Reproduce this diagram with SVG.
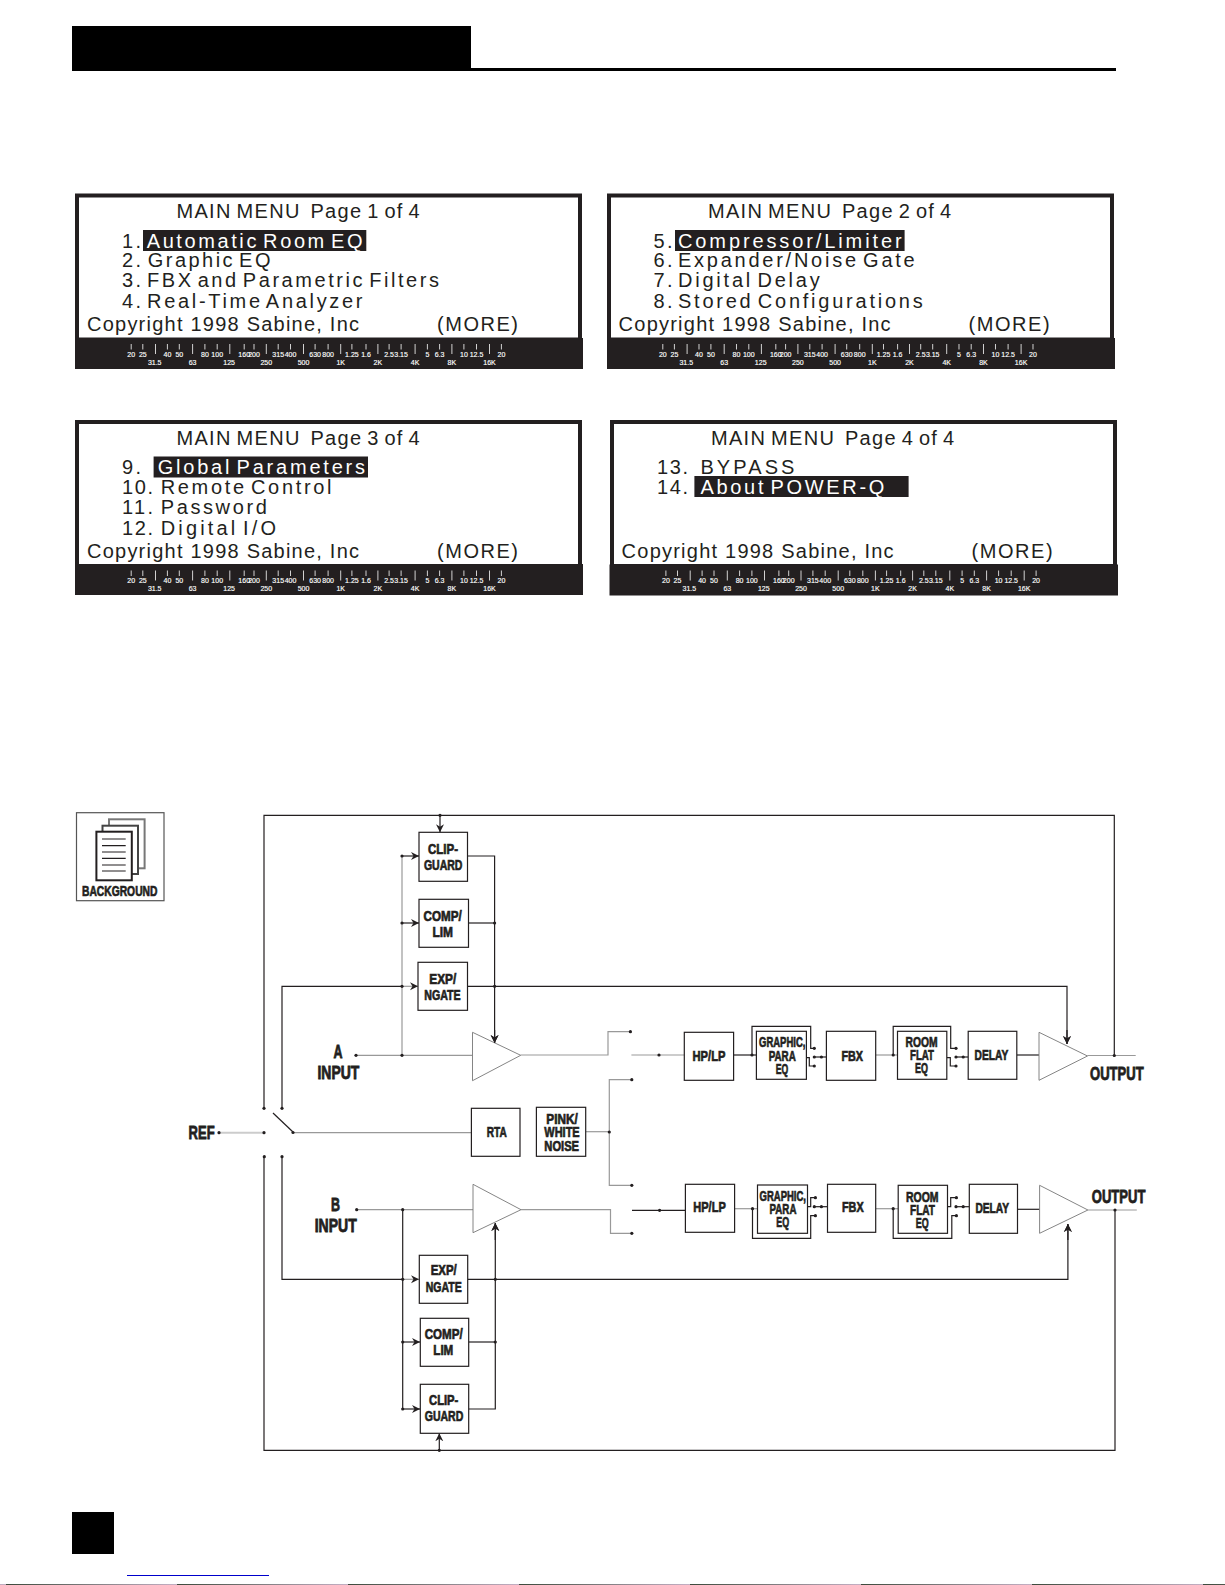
<svg xmlns="http://www.w3.org/2000/svg" width="1225" height="1585" viewBox="0 0 1225 1585">
<style>
text{font-family:"Liberation Sans",Arial,sans-serif;fill:#231f20}
.m{font-size:20px}
.n{font-size:20px;word-spacing:-4px}
.p{font-size:20px;word-spacing:-2px;white-space:pre}
.b{font-size:15px;font-weight:bold;stroke:#231f20;stroke-width:.7;text-anchor:middle}
.l{font-size:18px;font-weight:bold;stroke:#231f20;stroke-width:.8}
.w{fill:#fff;font-size:20px;word-spacing:-4px}
.u{fill:#fff;stroke:#fff;stroke-width:.15;font-size:7px;text-anchor:middle}
.box{fill:#fff;stroke:#231f20;stroke-width:1.2}
.k{fill:none;stroke:#231f20;stroke-width:1.2}
.g{fill:none;stroke:#999;stroke-width:1.2}
.h{fill:none;stroke:#ccc;stroke-width:2}
.t{fill:#fff;stroke:#777;stroke-width:.9}
.a{marker-end:url(#arr)}
.d{fill:#231f20}
.tick{stroke:#fff;stroke-width:.8;fill:none}
</style>
<defs>
<marker id="arr" markerUnits="userSpaceOnUse" markerWidth="9" markerHeight="9" refX="8" refY="4.500" orient="auto"><path d="M0,.5 L8,4.500 L0,8.500 L2.500,4.500z" fill="#231f20"/></marker>
<linearGradient id="strip" gradientUnits="userSpaceOnUse" x1="6" y1="0" x2="177" y2="0" spreadMethod="repeat"><stop offset="0" stop-color="#3c4a3c"/><stop offset="1" stop-color="#c4b0c4"/></linearGradient>
<path id="ticks" d="M131.2 344v5.500M142.8 344v5.500M167.4 344v5.500M179.3 344v5.500M204.9 344v5.500M217.2 344v5.500M244.2 344v5.500M254 344v5.500M278.2 344v5.500M290.5 344v5.500M315.1 344v5.500M328.1 344v5.500M351.9 344v5.500M366 344v5.500M389.1 344v5.500M401.1 344v5.500M427.4 344v5.500M439.6 344v5.500M463.9 344v5.500M476.5 344v5.500M501.4 344v5.500M155.5 344v10M192.6 344v10M229.8 344v10M266.3 344v10M303.5 344v10M340.7 344v10M377.9 344v10M415.1 344v10M451.9 344v10M489.5 344v10"/>
</defs>
<rect width="1225" height="1585" fill="#fff"/>
<g id="header"><rect x="72" y="26" width="399" height="45" fill="#000"/><rect x="471" y="68" width="645" height="3" fill="#000"/></g>
<rect id="page-number" x="72" y="1512" width="42" height="42" fill="#000"/>
<rect x="127" y="1575" width="142" height="1" fill="#0000cc"/>
<rect x="0" y="1584" width="1225" height="1" fill="url(#strip)"/>

<g id="panel-1">
<rect x="77" y="195.500" width="503" height="144" fill="#fff" stroke="#231f20" stroke-width="4"/>
<rect x="75" y="338" width="508" height="31" fill="#231f20"/>
<rect x="143" y="230" width="223.300" height="21" fill="#231f20"/>
<text class="p" x="176.500" y="218.300" textLength="243.200">MAIN MENU  Page 1 of 4</text>
<text class="m" x="122" y="248" textLength="19">1.</text><text class="w" x="146.700" y="248" textLength="215.800">Automatic Room EQ</text>
<text class="m" x="122" y="267.300" textLength="19">2.</text><text class="n" x="147.700" y="267.300" textLength="122.800">Graphic EQ</text>
<text class="m" x="122" y="287.300" textLength="19">3.</text><text class="n" x="147" y="287.300" textLength="292">FBX and Parametric Filters</text>
<text class="m" x="122" y="308" textLength="19">4.</text><text class="n" x="147" y="308" textLength="215.500">Real-Time Analyzer</text>
<text class="m" x="87" y="331.200" textLength="272">Copyright 1998 Sabine, Inc</text><text class="m" x="437" y="331.200" textLength="81">(MORE)</text>
<g><use href="#ticks" class="tick"/>
<text class="u" x="131.200" y="356.500">20</text><text class="u" x="142.800" y="356.500">25</text><text class="u" x="167.400" y="356.500">40</text><text class="u" x="179.300" y="356.500">50</text><text class="u" x="204.900" y="356.500">80</text><text class="u" x="217.200" y="356.500">100</text><text class="u" x="244.200" y="356.500">160</text><text class="u" x="254" y="356.500">200</text><text class="u" x="278.200" y="356.500">315</text><text class="u" x="290.500" y="356.500">400</text><text class="u" x="315.100" y="356.500">630</text><text class="u" x="328.100" y="356.500">800</text><text class="u" x="351.900" y="356.500">1.25</text><text class="u" x="366" y="356.500">1.6</text><text class="u" x="389.100" y="356.500">2.5</text><text class="u" x="401.100" y="356.500">3.15</text><text class="u" x="427.400" y="356.500">5</text><text class="u" x="439.600" y="356.500">6.3</text><text class="u" x="463.900" y="356.500">10</text><text class="u" x="476.500" y="356.500">12.5</text><text class="u" x="501.400" y="356.500">20</text>
<text class="u" x="154.700" y="364.500">31.5</text><text class="u" x="192.600" y="364.500">63</text><text class="u" x="229.100" y="364.500">125</text><text class="u" x="266.300" y="364.500">250</text><text class="u" x="303.500" y="364.500">500</text><text class="u" x="340.700" y="364.500">1K</text><text class="u" x="377.900" y="364.500">2K</text><text class="u" x="415.100" y="364.500">4K</text><text class="u" x="451.900" y="364.500">8K</text><text class="u" x="489.500" y="364.500">16K</text></g>
</g>

<g id="panel-2">
<rect x="609" y="195.500" width="503" height="144" fill="#fff" stroke="#231f20" stroke-width="4"/>
<rect x="607" y="338" width="508" height="31" fill="#231f20"/>
<rect x="675" y="230" width="229.600" height="21" fill="#231f20"/>
<text class="p" x="708" y="218.300" textLength="243.200">MAIN MENU  Page 2 of 4</text>
<text class="m" x="653.500" y="248" textLength="19">5.</text><text class="w" x="678" y="248" textLength="223.600">Compressor/Limiter</text>
<text class="m" x="653.500" y="267.300" textLength="19">6.</text><text class="n" x="678" y="267.300" textLength="236.700">Expander/Noise Gate</text>
<text class="m" x="653.500" y="287.300" textLength="19">7.</text><text class="n" x="678" y="287.300" textLength="141.700">Digital Delay</text>
<text class="m" x="653.500" y="308" textLength="19">8.</text><text class="n" x="678" y="308" textLength="244.700">Stored Configurations</text>
<text class="m" x="618.600" y="331.200" textLength="272">Copyright 1998 Sabine, Inc</text><text class="m" x="968.600" y="331.200" textLength="81">(MORE)</text>
<g transform="translate(531.600 0)"><use href="#ticks" class="tick"/>
<text class="u" x="131.200" y="356.500">20</text><text class="u" x="142.800" y="356.500">25</text><text class="u" x="167.400" y="356.500">40</text><text class="u" x="179.300" y="356.500">50</text><text class="u" x="204.900" y="356.500">80</text><text class="u" x="217.200" y="356.500">100</text><text class="u" x="244.200" y="356.500">160</text><text class="u" x="254" y="356.500">200</text><text class="u" x="278.200" y="356.500">315</text><text class="u" x="290.500" y="356.500">400</text><text class="u" x="315.100" y="356.500">630</text><text class="u" x="328.100" y="356.500">800</text><text class="u" x="351.900" y="356.500">1.25</text><text class="u" x="366" y="356.500">1.6</text><text class="u" x="389.100" y="356.500">2.5</text><text class="u" x="401.100" y="356.500">3.15</text><text class="u" x="427.400" y="356.500">5</text><text class="u" x="439.600" y="356.500">6.3</text><text class="u" x="463.900" y="356.500">10</text><text class="u" x="476.500" y="356.500">12.5</text><text class="u" x="501.400" y="356.500">20</text>
<text class="u" x="154.700" y="364.500">31.5</text><text class="u" x="192.600" y="364.500">63</text><text class="u" x="229.100" y="364.500">125</text><text class="u" x="266.300" y="364.500">250</text><text class="u" x="303.500" y="364.500">500</text><text class="u" x="340.700" y="364.500">1K</text><text class="u" x="377.900" y="364.500">2K</text><text class="u" x="415.100" y="364.500">4K</text><text class="u" x="451.900" y="364.500">8K</text><text class="u" x="489.500" y="364.500">16K</text></g>
</g>

<g id="panel-3">
<rect x="77" y="422" width="503" height="144" fill="#fff" stroke="#231f20" stroke-width="4"/>
<rect x="75" y="564" width="508" height="31" fill="#231f20"/>
<rect x="153.600" y="456.500" width="214.400" height="21" fill="#231f20"/>
<text class="p" x="176.500" y="444.800" textLength="243.200">MAIN MENU  Page 3 of 4</text>
<text class="m" x="122" y="473.800" textLength="19">9.</text><text class="w" x="157.700" y="473.800" textLength="207.300">Global Parameters</text>
<text class="m" x="122" y="493.800" textLength="31">10.</text><text class="n" x="160.700" y="493.800" textLength="170.800">Remote Control</text>
<text class="m" x="122" y="513.800" textLength="31">11.</text><text class="n" x="160.700" y="513.800" textLength="106.100">Password</text>
<text class="m" x="122" y="534.500" textLength="31">12.</text><text class="n" x="160.700" y="534.500" textLength="115.300">Digital I/O</text>
<text class="m" x="87" y="557.700" textLength="272">Copyright 1998 Sabine, Inc</text><text class="m" x="437" y="557.700" textLength="81">(MORE)</text>
<g transform="translate(0 226.500)"><use href="#ticks" class="tick"/>
<text class="u" x="131.200" y="356.500">20</text><text class="u" x="142.800" y="356.500">25</text><text class="u" x="167.400" y="356.500">40</text><text class="u" x="179.300" y="356.500">50</text><text class="u" x="204.900" y="356.500">80</text><text class="u" x="217.200" y="356.500">100</text><text class="u" x="244.200" y="356.500">160</text><text class="u" x="254" y="356.500">200</text><text class="u" x="278.200" y="356.500">315</text><text class="u" x="290.500" y="356.500">400</text><text class="u" x="315.100" y="356.500">630</text><text class="u" x="328.100" y="356.500">800</text><text class="u" x="351.900" y="356.500">1.25</text><text class="u" x="366" y="356.500">1.6</text><text class="u" x="389.100" y="356.500">2.5</text><text class="u" x="401.100" y="356.500">3.15</text><text class="u" x="427.400" y="356.500">5</text><text class="u" x="439.600" y="356.500">6.3</text><text class="u" x="463.900" y="356.500">10</text><text class="u" x="476.500" y="356.500">12.5</text><text class="u" x="501.400" y="356.500">20</text>
<text class="u" x="154.700" y="364.500">31.5</text><text class="u" x="192.600" y="364.500">63</text><text class="u" x="229.100" y="364.500">125</text><text class="u" x="266.300" y="364.500">250</text><text class="u" x="303.500" y="364.500">500</text><text class="u" x="340.700" y="364.500">1K</text><text class="u" x="377.900" y="364.500">2K</text><text class="u" x="415.100" y="364.500">4K</text><text class="u" x="451.900" y="364.500">8K</text><text class="u" x="489.500" y="364.500">16K</text></g>
</g>

<g id="panel-4">
<rect x="612" y="422" width="503" height="144" fill="#fff" stroke="#231f20" stroke-width="4"/>
<rect x="609.500" y="564.500" width="508.500" height="31" fill="#231f20"/>
<rect x="694.400" y="476" width="214.200" height="21" fill="#231f20"/>
<text class="p" x="711" y="444.800" textLength="243.200">MAIN MENU  Page 4 of 4</text>
<text class="m" x="657" y="473.800" textLength="31">13.</text><text class="n" x="700.400" y="473.800" textLength="94">BYPASS</text>
<text class="m" x="657" y="493.800" textLength="31">14.</text><text class="w" x="700.400" y="493.800" textLength="184">About POWER-Q</text>
<text class="m" x="621.600" y="557.700" textLength="272">Copyright 1998 Sabine, Inc</text><text class="m" x="971.600" y="557.700" textLength="81">(MORE)</text>
<g transform="translate(534.700 226.500)"><use href="#ticks" class="tick"/>
<text class="u" x="131.200" y="356.500">20</text><text class="u" x="142.800" y="356.500">25</text><text class="u" x="167.400" y="356.500">40</text><text class="u" x="179.300" y="356.500">50</text><text class="u" x="204.900" y="356.500">80</text><text class="u" x="217.200" y="356.500">100</text><text class="u" x="244.200" y="356.500">160</text><text class="u" x="254" y="356.500">200</text><text class="u" x="278.200" y="356.500">315</text><text class="u" x="290.500" y="356.500">400</text><text class="u" x="315.100" y="356.500">630</text><text class="u" x="328.100" y="356.500">800</text><text class="u" x="351.900" y="356.500">1.25</text><text class="u" x="366" y="356.500">1.6</text><text class="u" x="389.100" y="356.500">2.5</text><text class="u" x="401.100" y="356.500">3.15</text><text class="u" x="427.400" y="356.500">5</text><text class="u" x="439.600" y="356.500">6.3</text><text class="u" x="463.900" y="356.500">10</text><text class="u" x="476.500" y="356.500">12.5</text><text class="u" x="501.400" y="356.500">20</text>
<text class="u" x="154.700" y="364.500">31.5</text><text class="u" x="192.600" y="364.500">63</text><text class="u" x="229.100" y="364.500">125</text><text class="u" x="266.300" y="364.500">250</text><text class="u" x="303.500" y="364.500">500</text><text class="u" x="340.700" y="364.500">1K</text><text class="u" x="377.900" y="364.500">2K</text><text class="u" x="415.100" y="364.500">4K</text><text class="u" x="451.900" y="364.500">8K</text><text class="u" x="489.500" y="364.500">16K</text></g>
</g>

<g id="background-icon">
<rect x="76.500" y="812.700" width="87.500" height="88" fill="#fff" stroke="#555" stroke-width="1.200"/>
<rect x="109" y="819.300" width="35.600" height="49" fill="#fff" stroke="#777" stroke-width="2"/>
<rect x="102.500" y="825.700" width="35.500" height="48.300" fill="#fff" stroke="#444" stroke-width="2"/>
<rect x="96.400" y="831.700" width="35.400" height="48.600" fill="#fff" stroke="#231f20" stroke-width="2"/>
<path d="M102 839h23.700M102 845.700h23.700M102 852h23.700M102 858.300h23.700M102 865h23.700M102 871h23.700" class="k"/>
<text x="119.700" y="895.700" class="b" textLength="75.500" lengthAdjust="spacingAndGlyphs">BACKGROUND</text>
</g>

<g id="connectors">
<path class="k" d="M264 1108.300V815.300H1114.300V1055"/>
<path class="k" d="M264 1156.700V1450.300H1115V1210"/>
<path class="k a" d="M440 815.300V832.300"/>
<path class="k a" d="M439.300 1450.300V1433.300"/>
<path class="k" d="M282 1108.300V986.300H402"/>
<path class="k" d="M282 1156.700V1279.300H402"/>
<path class="g" d="M402 856V1055.300"/>
<path class="k" d="M402.700 1209.700V1409"/>
<path class="k a" d="M402 856H419"/><path class="k a" d="M402 923H419"/><path class="g a" d="M402 986.300H418"/>
<path class="g a" d="M402.700 1279.300H419"/><path class="k a" d="M402.700 1342H420"/><path class="k a" d="M402.700 1409H420"/>
<path class="k a" d="M467.500 856H494.600V1043"/>
<path class="k" d="M468.500 923H494.600"/>
<path class="k a" d="M467.500 986.300H1067V1044"/>
<path class="k a" d="M468.700 1409H495.300V1223"/>
<path class="k" d="M468.700 1342H495.300"/>
<path class="k a" d="M467.700 1279.300H1067.900V1224"/>
<path class="g" d="M356 1055.300H472.500"/>
<path class="g" d="M356.700 1209.700H473"/>
<path class="h" d="M219 1132.700H264"/>
<path class="k" d="M273 1113L293 1132"/>
<path class="g" d="M293 1132.700H471"/>
<path class="g" d="M585.700 1131.700H609.300"/>
<path class="g" d="M631.800 1079.700H609.300V1185.300H631.800"/>
<path class="g" d="M520.700 1055H608V1031.700H630.400"/>
<path class="g" d="M521 1209.700H610.500V1233.300H631.800"/>
<path class="h" d="M631.400 1055H684.300"/>
<path class="k" d="M632 1210.300H686.800"/>
<path class="k" d="M733.600 1055H756.400"/><path class="g" d="M734.600 1208.700H757.500"/>
<path class="k" d="M752 1055V1026.300H810.700V1048.300H814.300"/>
<path class="k" d="M806.400 1057.700H809.300V1066H814.300"/>
<path class="k" d="M814.300 1057H826.400"/>
<path class="g" d="M875.700 1055H897.500"/>
<path class="k" d="M893.200 1055V1026.300H950.700V1048.300H956"/>
<path class="k" d="M946.800 1057.700H950.300V1066H956"/>
<path class="k" d="M956 1057H968.200"/>
<path class="k" d="M1016.800 1055H1039"/>
<path class="g" d="M1087.500 1055.500H1135.700"/>
<path class="k" d="M752.500 1208.700V1238.300H810.700V1215.700H815.400"/>
<path class="k" d="M807.500 1206.700H810.700V1197.700H815.400"/>
<path class="k" d="M814.300 1206.700H827.500"/>
<path class="g" d="M875.700 1208.700H898.200"/>
<path class="k" d="M893.200 1208.700V1238.300H951.800V1215.700H956.400"/>
<path class="k" d="M947.500 1206.700H950.700V1197.700H956.400"/>
<path class="k" d="M956 1206.700H969.300"/>
<path class="k" d="M1017.500 1209.300H1039.600"/>
<path class="h" d="M1087.900 1210H1136.800"/>
<g class="d">
<circle cx="440" cy="815.300" r="1.600"/><circle cx="402" cy="856" r="1.600"/><circle cx="402" cy="923" r="1.600"/><circle cx="402" cy="986.300" r="1.600"/><circle cx="402" cy="1055.300" r="1.600"/><circle cx="356" cy="1055.300" r="1.600"/><circle cx="494.600" cy="923" r="1.600"/><circle cx="494.600" cy="986.300" r="1.600"/><circle cx="264" cy="1108.300" r="1.600"/><circle cx="282" cy="1108.300" r="1.600"/><circle cx="219" cy="1132.700" r="1.600"/><circle cx="264" cy="1132.700" r="1.600"/><circle cx="293" cy="1132.500" r="1.600"/><circle cx="264.300" cy="1156.700" r="1.600"/><circle cx="282" cy="1156.700" r="1.600"/><circle cx="356.700" cy="1209.700" r="1.600"/><circle cx="402.700" cy="1209.700" r="1.600"/><circle cx="402.700" cy="1279.300" r="1.600"/><circle cx="402.700" cy="1342" r="1.600"/><circle cx="402.700" cy="1409" r="1.600"/><circle cx="495.300" cy="1279.300" r="1.600"/><circle cx="495.300" cy="1342" r="1.600"/><circle cx="439.300" cy="1450.300" r="1.600"/><circle cx="609.300" cy="1132" r="1.600"/>
<circle cx="630.400" cy="1031.700" r="1.600"/><circle cx="631.800" cy="1079.700" r="1.600"/><circle cx="631.800" cy="1185.300" r="1.600"/><circle cx="631.800" cy="1233.300" r="1.600"/><circle cx="659" cy="1055" r="1.600"/><circle cx="659.600" cy="1210.300" r="1.600"/>
<circle cx="752" cy="1055" r="1.600"/><circle cx="814.300" cy="1048.300" r="1.600"/><circle cx="814.300" cy="1057" r="1.600"/><circle cx="814.300" cy="1066" r="1.600"/><circle cx="821.400" cy="1057" r="1.600"/><circle cx="893.200" cy="1055" r="1.600"/><circle cx="956" cy="1048.300" r="1.600"/><circle cx="956" cy="1057" r="1.600"/><circle cx="956" cy="1066" r="1.600"/><circle cx="963.200" cy="1057" r="1.600"/><circle cx="1114.300" cy="1055.500" r="1.600"/>
<circle cx="752.500" cy="1208.700" r="1.600"/><circle cx="815.400" cy="1197.700" r="1.600"/><circle cx="814.300" cy="1206.700" r="1.600"/><circle cx="815.400" cy="1215.700" r="1.600"/><circle cx="821.400" cy="1206.700" r="1.600"/><circle cx="893.200" cy="1208.700" r="1.600"/><circle cx="956.400" cy="1197.700" r="1.600"/><circle cx="956" cy="1206.700" r="1.600"/><circle cx="956.400" cy="1215.700" r="1.600"/><circle cx="963.200" cy="1206.700" r="1.600"/><circle cx="1115" cy="1210" r="1.600"/>
</g>
</g>

<g id="amp-a-in"><path class="t" d="M472.500 1032.300V1080.700L520.700 1055.300z"/></g>
<g id="amp-b-in"><path class="t" d="M473 1184.300V1232.700L521 1209.700z"/></g>
<g id="amp-a-out"><path class="t" d="M1039 1032.300V1080.300L1087.500 1056z"/></g>
<g id="amp-b-out"><path class="t" d="M1039.600 1185.300V1233.300L1087.900 1210z"/></g>
<path class="k a" d="M494.600 1030V1043"/><path class="k a" d="M1067 1030V1044"/><path class="k a" d="M495.300 1240V1223"/><path class="k a" d="M1067.900 1240V1224"/>

<g id="clip-a"><rect class="box" x="419" y="832.300" width="48.500" height="49"/><text class="b" x="443" y="854" textLength="30" lengthAdjust="spacingAndGlyphs">CLIP-</text><text class="b" x="443.200" y="869.700" textLength="38.500" lengthAdjust="spacingAndGlyphs">GUARD</text></g>
<g id="comp-a"><rect class="box" x="419" y="899.300" width="49.500" height="48"/><text class="b" x="442.700" y="920.700" textLength="38.200" lengthAdjust="spacingAndGlyphs">COMP/</text><text class="b" x="442.700" y="936.700" textLength="20.500" lengthAdjust="spacingAndGlyphs">LIM</text></g>
<g id="exp-a"><rect class="box" x="418" y="962.300" width="49.500" height="48"/><text class="b" x="442.800" y="984" textLength="27" lengthAdjust="spacingAndGlyphs">EXP/</text><text class="b" x="442.500" y="999.700" textLength="36.400" lengthAdjust="spacingAndGlyphs">NGATE</text></g>
<g id="rta"><rect class="box" x="471.400" y="1108.300" width="48.600" height="48"/><text class="b" x="496.700" y="1137.300" textLength="20" lengthAdjust="spacingAndGlyphs">RTA</text></g>
<g id="noise"><rect class="box" x="536.400" y="1107.300" width="49.300" height="49"/><text class="b" x="562" y="1124" textLength="31.500" lengthAdjust="spacingAndGlyphs">PINK/</text><text class="b" x="562" y="1137" textLength="35.300" lengthAdjust="spacingAndGlyphs">WHITE</text><text class="b" x="561.700" y="1150.700" textLength="34.700" lengthAdjust="spacingAndGlyphs">NOISE</text></g>
<g id="hplp-a"><rect class="box" x="684.300" y="1032.300" width="49.300" height="48"/><text class="b" x="709" y="1061" textLength="32.900" lengthAdjust="spacingAndGlyphs">HP/LP</text></g>
<g id="graphic-a"><rect class="box" x="756.400" y="1031.300" width="50" height="48"/><text class="b" x="782.200" y="1047" textLength="46.400" lengthAdjust="spacingAndGlyphs">GRAPHIC,</text><text class="b" x="782.200" y="1061" textLength="27.100" lengthAdjust="spacingAndGlyphs">PARA</text><text class="b" x="782" y="1074" textLength="12.500" lengthAdjust="spacingAndGlyphs">EQ</text></g>
<g id="fbx-a"><rect class="box" x="826.400" y="1031.300" width="49.300" height="49"/><text class="b" x="852.200" y="1061" textLength="21.500" lengthAdjust="spacingAndGlyphs">FBX</text></g>
<g id="room-a"><rect class="box" x="897.500" y="1031.300" width="49.300" height="48"/><text class="b" x="921.500" y="1046.700" textLength="32.100" lengthAdjust="spacingAndGlyphs">ROOM</text><text class="b" x="922" y="1060" textLength="24" lengthAdjust="spacingAndGlyphs">FLAT</text><text class="b" x="921.500" y="1073.300" textLength="12.900" lengthAdjust="spacingAndGlyphs">EQ</text></g>
<g id="delay-a"><rect class="box" x="968.200" y="1031.300" width="48.600" height="48"/><text class="b" x="991.400" y="1060" textLength="33.600" lengthAdjust="spacingAndGlyphs">DELAY</text></g>
<g id="hplp-b"><rect class="box" x="685.400" y="1184.300" width="49.200" height="48"/><text class="b" x="709.500" y="1212.300" textLength="32.500" lengthAdjust="spacingAndGlyphs">HP/LP</text></g>
<g id="graphic-b"><rect class="box" x="757.500" y="1185" width="50" height="48.300"/><text class="b" x="782.800" y="1200.700" textLength="46.400" lengthAdjust="spacingAndGlyphs">GRAPHIC,</text><text class="b" x="783" y="1214" textLength="26.800" lengthAdjust="spacingAndGlyphs">PARA</text><text class="b" x="782.800" y="1227.300" textLength="12.900" lengthAdjust="spacingAndGlyphs">EQ</text></g>
<g id="fbx-b"><rect class="box" x="827.500" y="1184.300" width="48.200" height="48"/><text class="b" x="852.800" y="1212.300" textLength="21.600" lengthAdjust="spacingAndGlyphs">FBX</text></g>
<g id="room-b"><rect class="box" x="898.200" y="1185.300" width="49.300" height="48"/><text class="b" x="922.300" y="1201.700" textLength="32.600" lengthAdjust="spacingAndGlyphs">ROOM</text><text class="b" x="922.500" y="1215" textLength="25" lengthAdjust="spacingAndGlyphs">FLAT</text><text class="b" x="922.200" y="1228.300" textLength="12.900" lengthAdjust="spacingAndGlyphs">EQ</text></g>
<g id="delay-b"><rect class="box" x="969.300" y="1184.300" width="48.200" height="49"/><text class="b" x="992.200" y="1213" textLength="33.600" lengthAdjust="spacingAndGlyphs">DELAY</text></g>
<g id="exp-b"><rect class="box" x="419.300" y="1255.300" width="48.400" height="48"/><text class="b" x="443.700" y="1274.700" textLength="26" lengthAdjust="spacingAndGlyphs">EXP/</text><text class="b" x="443.700" y="1292.300" textLength="36" lengthAdjust="spacingAndGlyphs">NGATE</text></g>
<g id="comp-b"><rect class="box" x="420.300" y="1318.300" width="48.400" height="48"/><text class="b" x="443.700" y="1338.700" textLength="38" lengthAdjust="spacingAndGlyphs">COMP/</text><text class="b" x="443.300" y="1354.700" textLength="20" lengthAdjust="spacingAndGlyphs">LIM</text></g>
<g id="clip-b"><rect class="box" x="420.300" y="1384.300" width="48.400" height="49"/><text class="b" x="443.700" y="1404.700" textLength="29.300" lengthAdjust="spacingAndGlyphs">CLIP-</text><text class="b" x="444" y="1421.300" textLength="38.600" lengthAdjust="spacingAndGlyphs">GUARD</text></g>

<g id="labels">
<text class="l" x="333.500" y="1058.300" textLength="9" lengthAdjust="spacingAndGlyphs">A</text>
<text class="l" x="317.500" y="1079.300" textLength="41.800" lengthAdjust="spacingAndGlyphs">INPUT</text>
<text class="l" x="188.600" y="1139" textLength="26" lengthAdjust="spacingAndGlyphs">REF</text>
<text class="l" x="331" y="1211" textLength="9" lengthAdjust="spacingAndGlyphs">B</text>
<text class="l" x="314.700" y="1232.300" textLength="42" lengthAdjust="spacingAndGlyphs">INPUT</text>
<text class="l" x="1090" y="1080" textLength="53.600" lengthAdjust="spacingAndGlyphs">OUTPUT</text>
<text class="l" x="1091.800" y="1202.700" textLength="53.600" lengthAdjust="spacingAndGlyphs">OUTPUT</text>
</g>
</svg>
